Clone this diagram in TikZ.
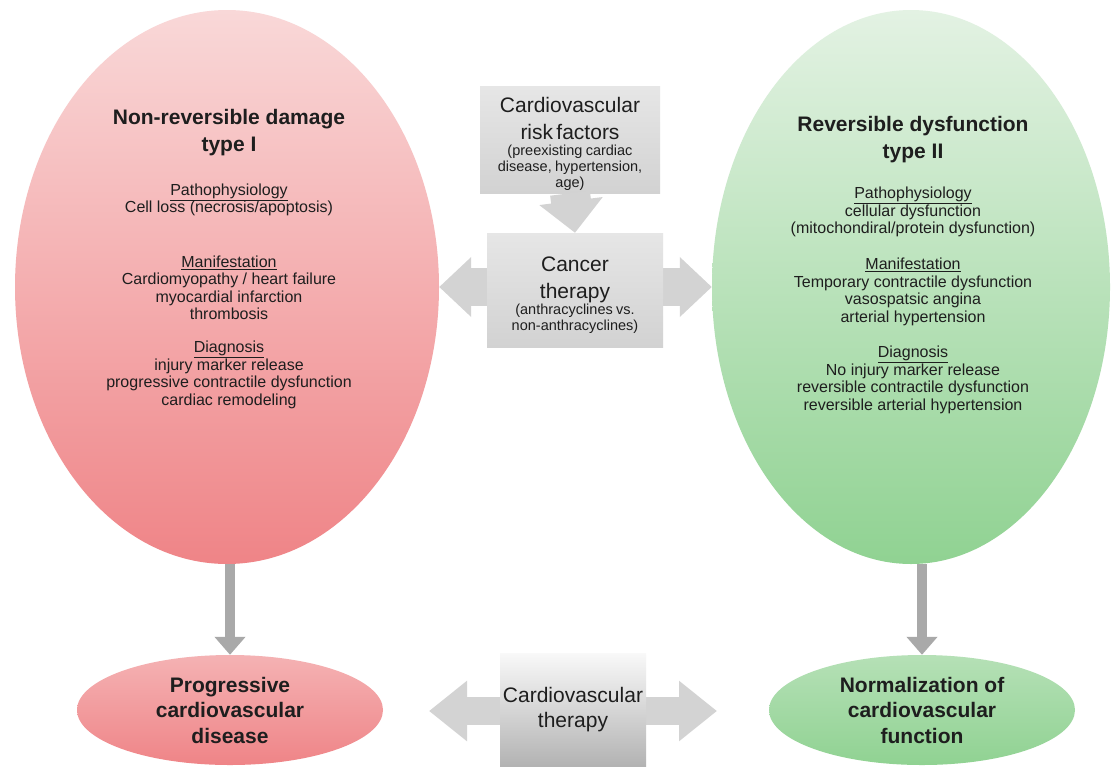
\documentclass[tikz,border=0pt]{standalone}
\usepackage{fontspec}
\setmainfont{Liberation Sans}
\usepackage{xcolor}
\usepackage{tikz}
\usetikzlibrary{shapes.geometric,arrows.meta}
\definecolor{ink}{HTML}{1E1E1E}
\definecolor{pinktop}{HTML}{F9D8D8}
\definecolor{pinkbot}{HTML}{EF8487}
\definecolor{greentop}{HTML}{E3F2E3}
\definecolor{greenbot}{HTML}{90D292}
\definecolor{boxlight}{HTML}{E6E6E6}
\definecolor{boxgray}{HTML}{D2D2D2}
\definecolor{arrgray}{HTML}{D3D3D3}
\definecolor{arrdark}{HTML}{A9A9A9}
\tikzset{
  bigoval/.style={ellipse, inner sep=0pt, minimum height=554pt},
  smalloval/.style={ellipse, inner sep=0pt, minimum width=306pt, minimum height=110pt,
    align=center, text=ink, font=\bfseries\fontsize{21}{25.5}\selectfont},
  graybox/.style={inner sep=2pt, align=center, text=ink, top color=boxlight, bottom color=boxgray},
  head/.style={align=center, text=ink, font=\bfseries\fontsize{21}{27}\selectfont},
  body/.style={align=center, text=ink, font=\fontsize{16}{17.5}\selectfont},
  wide/.style={draw=arrgray, line width=38pt,
    {Triangle[width=58pt,length=32pt]}-{Triangle[width=58pt,length=32pt]}},
  wideb/.style={draw=arrgray, line width=28pt,
    {Triangle[width=58pt,length=38pt]}-{Triangle[width=58pt,length=38pt]}},
  downfat/.style={draw=arrgray, line width=40pt, -{Triangle[width=62pt,length=32pt]}},
  down/.style={draw=arrdark, line width=10pt, -{Triangle[width=30pt,length=18pt]}},
}

\begin{document}
\begin{tikzpicture}[x=1pt,y=-1pt]
  \fill[white] (0,0) rectangle (1113,766);
  \useasboundingbox (0,0) rectangle (1113,766);

  \node[bigoval, minimum width=424pt, top color=pinktop, bottom color=pinkbot] (t1) at (227,287) {};
  \node[bigoval, minimum width=398pt, top color=greentop, bottom color=greenbot] (t2) at (911,287) {};

  \node[smalloval, top color=pinktop!55!pinkbot, bottom color=pinkbot] (prog) at (230,710)
    {Progressive\\cardiovascular\\disease};
  \node[smalloval, top color=greentop!45!greenbot, bottom color=greenbot] (norm) at (922,710)
    {Normalization of\\cardiovascular\\function};

  \draw[wide] (t1.east) -- (t2.west);

  \node[graybox, minimum width=180pt, minimum height=100pt, text width=176pt] (risk) at (570,140)
    {{\fontsize{21}{27}\selectfont \rule{0pt}{24pt}Cardiovascular\\ risk factors\par}
     {\fontsize{14.5}{16}\selectfont (preexisting cardiac\\ disease, hypertension,\\ age)\par}};
  \node[graybox, minimum width=176pt, minimum height=114pt, text width=172pt] (cancer) at (575,290)
    {{\fontsize{21}{27}\selectfont \rule{0pt}{25pt}Cancer\\ therapy\par}
     {\fontsize{14.5}{16}\selectfont (anthracyclines vs.\\ non-anthracyclines)\par}};
  \draw[downfat] (risk.south) -- (cancer.north);

  \node[head] (h1) at (229,133) {Non-reversible damage\\type I};
  \node[body] (p1) at (229,200) {\underline{Pathophysiology}\\Cell loss (necrosis/apoptosis)};
  \node[body] (m1) at (229,288) {\underline{Manifestation}\\Cardiomyopathy / heart failure\\myocardial infarction\\thrombosis};
  \node[body] (d1) at (229,375) {\underline{Diagnosis}\\injury marker release\\progressive contractile dysfunction\\cardiac remodeling};

  \node[head] (h2) at (913,140) {Reversible dysfunction\\type II};
  \node[body] (p2) at (913,212) {\underline{Pathophysiology}\\cellular dysfunction\\(mitochondiral/protein dysfunction)};
  \node[body] (m2) at (913,292) {\underline{Manifestation}\\Temporary contractile dysfunction\\vasospatsic angina\\arterial hypertension};
  \node[body] (d2) at (913,380) {\underline{Diagnosis}\\No injury marker release\\reversible contractile dysfunction\\reversible arterial hypertension};

  \draw[down] (prog.north |- t1.south) -- (prog.north);
  \draw[down] (norm.north |- t2.south) -- (norm.north);

  \coordinate (cvL) at (429,711);
  \coordinate (cvR) at (717,711);
  \draw[wideb] (cvL) -- (cvR);
  \node[graybox, minimum width=146pt, minimum height=113pt, top color=white!85!boxgray, bottom color=boxgray!85!black,
    font=\fontsize{21}{25}\selectfont] (cvt) at (573,710) {Cardiovascular\\therapy};
\end{tikzpicture}
\end{document}
